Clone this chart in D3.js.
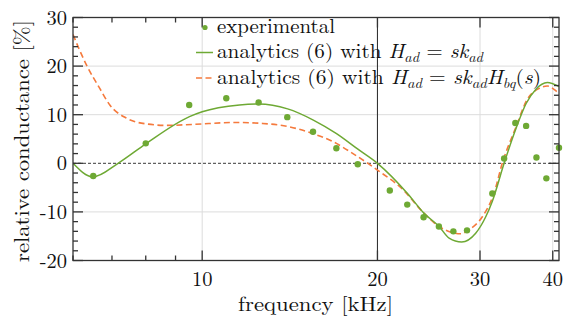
<!DOCTYPE html>
<html lang="en">
<head>
<meta charset="UTF-8">
<title>relative conductance</title>
<script src="https://d3js.org/d3.v7.min.js"></script>
<style>
  body { margin: 0; background: #fff; }
  text { font-family: "Latin Modern Roman", "CMU Serif", "Liberation Serif", serif; fill: #111; }
</style>
</head>
<body>
<svg></svg>
<script>
  // measured points (kHz, %)
  const expFreq = [6.5, 8, 9.5, 11, 12.5, 14, 15.5, 17, 18.5, 21, 22.5, 24, 25.5, 27, 28.5, 31.5, 33, 34.5, 36, 37.5, 39, 41]
  const expVal = [-2.6, 4.1, 12.0, 13.4, 12.5, 9.5, 6.5, 3.1, -0.2, -5.6, -8.5, -11.1, -13.0, -14.0, -13.8, -6.2, 1.0, 8.3, 7.7, 1.2, -3.1, 3.2]

  // analytics (6), H_ad = s k_ad
  const skFreq = [6.0, 6.49, 7.17, 8.0, 9.51, 10.0, 11.59, 12.5, 14.02, 15.52, 17.01, 18.51, 20.0, 22.52, 24.05, 25.52, 26.55, 27.9, 29.49, 30.69, 31.5, 33.0, 34.6, 36.0, 37.4, 39.15, 41.0]
  const skVal = [0, -2.8, 0, 4.0, 9.6, 10.6, 12.0, 12.2, 11.2, 8.9, 6.1, 2.9, 0, -6.2, -10.3, -13.0, -15.4, -16.2, -14.4, -11.0, -7.8, 0, 7.2, 12.3, 15.2, 16.6, 15.8]

  // analytics (6), H_ad = s k_ad H_bq(s)
  const bqFreq = [6.0, 6.33, 6.67, 6.94, 7.41, 8.02, 8.68, 9.64, 11.43, 12.7, 14.0, 15.5, 16.75, 18.1, 20.0, 22.07, 24.05, 25.52, 26.98, 27.85, 28.71, 30.28, 31.7, 32.76, 34.6, 36.1, 37.89, 39.15, 40.7, 41.0]
  const bqVal = [26.5, 20.2, 15.4, 12.0, 9.3, 8.1, 7.8, 8.0, 8.4, 8.2, 7.6, 6.1, 4.5, 2.1, -1.4, -5.3, -10.3, -13.0, -14.3, -14.5, -13.7, -11.0, -6.2, 0, 7.5, 13.0, 15.4, 15.9, 14.7, 14.4]

  const xMajor = [10, 20, 30, 40]
  const xMinor = [6, 7, 8, 9]
  const yMajor = [-20, -10, 0, 10, 20, 30]

  const width = 566
  const height = 322
  const margin = { top: 17.5, right: 7, bottom: 61.5, left: 73 }

  const green = '#6ea934'
  const orange = '#f57a3d'

  const svg = d3.select('svg')
    .attr('width', width)
    .attr('height', height)

  const x = d3.scaleLog()
    .domain([6, 41])
    .range([margin.left, width - margin.right])

  const y = d3.scaleLinear()
    .domain([-20, 30])
    .range([height - margin.bottom, margin.top])

  const x0 = x.range()[0], x1 = x.range()[1]
  const y0 = y.range()[0], y1 = y.range()[1]

  svg.append('clipPath').attr('id', 'plot')
    .append('rect')
    .attr('x', x0).attr('y', y1)
    .attr('width', x1 - x0).attr('height', y0 - y1)

  // grid
  const grid = svg.append('g').attr('stroke', '#dcdcdc').attr('stroke-width', 1)
  grid.selectAll('.gy')
    .data(yMajor.filter(d => d !== 0))
    .join('line')
    .attr('x1', x0).attr('x2', x1)
    .attr('y1', d => y(d)).attr('y2', d => y(d))
  grid.selectAll('.gx')
    .data([10, 30, 40])
    .join('line')
    .attr('x1', d => x(d)).attr('x2', d => x(d))
    .attr('y1', y0).attr('y2', y1)

  // zero line and 20 kHz marker
  svg.append('line')
    .attr('x1', x0).attr('x2', x1)
    .attr('y1', y(0)).attr('y2', y(0))
    .attr('stroke', '#222').attr('stroke-width', 0.9)
    .attr('stroke-dasharray', '3,2')
  svg.append('line')
    .attr('x1', x(20)).attr('x2', x(20))
    .attr('y1', y0).attr('y2', y1)
    .attr('stroke', '#333').attr('stroke-width', 1.1)

  const line = d3.line()
    .x(d => x(d[0]))
    .y(d => y(d[1]))
    .curve(d3.curveMonotoneX)

  const curves = svg.append('g').attr('clip-path', 'url(#plot)').attr('fill', 'none')
  curves.append('path')
    .attr('d', line(bqFreq.map((f, i) => [f, bqVal[i]])))
    .attr('stroke', orange).attr('stroke-width', 1.6)
    .attr('stroke-dasharray', '6,3.5')
  curves.append('path')
    .attr('d', line(skFreq.map((f, i) => [f, skVal[i]])))
    .attr('stroke', green).attr('stroke-width', 1.5)

  svg.append('g')
    .selectAll('circle')
    .data(expFreq.map((f, i) => [f, expVal[i]]))
    .join('circle')
    .attr('cx', d => x(d[0]))
    .attr('cy', d => y(d[1]))
    .attr('r', 3.2)
    .attr('fill', green)

  // frame and inward ticks on all four sides
  const frame = svg.append('g').attr('stroke', '#333').attr('stroke-width', 1.3)
  frame.append('rect')
    .attr('x', x0).attr('y', y1)
    .attr('width', x1 - x0).attr('height', y0 - y1)
    .attr('fill', 'none')

  const xt = xMajor.map(d => [d, 10]).concat(xMinor.map(d => [d, 5]))
  frame.selectAll('.xb').data(xt).join('line')
    .attr('x1', d => x(d[0])).attr('x2', d => x(d[0]))
    .attr('y1', y0).attr('y2', d => y0 - d[1])
  frame.selectAll('.xt').data(xt).join('line')
    .attr('x1', d => x(d[0])).attr('x2', d => x(d[0]))
    .attr('y1', y1).attr('y2', d => y1 + d[1])

  const yt = d3.range(-20, 31, 2).map(d => [d, d % 10 === 0 ? 10 : 5])
  frame.selectAll('.yl').data(yt).join('line')
    .attr('x1', x0).attr('x2', d => x0 + d[1])
    .attr('y1', d => y(d[0])).attr('y2', d => y(d[0]))
  frame.selectAll('.yr').data(yt).join('line')
    .attr('x1', x1).attr('x2', d => x1 - d[1])
    .attr('y1', d => y(d[0])).attr('y2', d => y(d[0]))

  // tick labels
  svg.append('g').selectAll('text')
    .data(xMajor)
    .join('text')
    .attr('x', d => x(d))
    .attr('y', 286)
    .attr('text-anchor', 'middle')
    .attr('font-size', 20.5)
    .text(d => d)

  svg.append('g').selectAll('text')
    .data(yMajor)
    .join('text')
    .attr('x', 67)
    .attr('y', d => y(d) + 7)
    .attr('text-anchor', 'end')
    .attr('font-size', 20.5)
    .text(d => d)

  // axis titles
  svg.append('text')
    .attr('x', 315.5).attr('y', 311)
    .attr('text-anchor', 'middle')
    .attr('font-size', 20.5)
    .attr('textLength', 155).attr('lengthAdjust', 'spacingAndGlyphs')
    .text('frequency [kHz]')

  svg.append('text')
    .attr('transform', `translate(29,${(y0 + y1) / 2 + 2}) rotate(-90)`)
    .attr('text-anchor', 'middle')
    .attr('font-size', 21)
    .attr('textLength', 242).attr('lengthAdjust', 'spacingAndGlyphs')
    .text('relative conductance [%]')

  // legend
  const legend = svg.append('g')
  legend.append('circle').attr('cx', 205).attr('cy', 27.5).attr('r', 2.6).attr('fill', green)
  legend.append('line')
    .attr('x1', 196).attr('x2', 213).attr('y1', 52.5).attr('y2', 52.5)
    .attr('stroke', green).attr('stroke-width', 1.5)
  legend.append('line')
    .attr('x1', 196).attr('x2', 213).attr('y1', 78).attr('y2', 78)
    .attr('stroke', orange).attr('stroke-width', 1.6)
    .attr('stroke-dasharray', '6,3.5')

  // text parts: [string, italic, subscript]
  function label(yPos, parts, len) {
    const t = legend.append('text')
      .attr('x', 217).attr('y', yPos)
      .attr('font-size', 20.5)
    if (len) t.attr('textLength', len).attr('lengthAdjust', 'spacingAndGlyphs')
    let shifted = false
    parts.forEach(p => {
      const s = t.append('tspan').text(p[0])
      if (p[1]) s.attr('font-style', 'italic')
      if (p[2] && !shifted) { s.attr('dy', 4).attr('font-size', 14); shifted = true }
      else if (p[2]) s.attr('font-size', 14)
      else if (shifted) { s.attr('dy', -4); shifted = false }
    })
  }

  label(32.5, [['experimental']], 118)
  label(58, [['analytics (6) with '], ['H', true], ['ad', true, true], [' = '], ['sk', true], ['ad', true, true]], 266)
  label(84, [['analytics (6) with '], ['H', true], ['ad', true, true], [' = '], ['sk', true], ['ad', true, true],
    ['H', true], ['bq', true, true], ['('], ['s', true], [')']], 324)
</script>
</body>
</html>
